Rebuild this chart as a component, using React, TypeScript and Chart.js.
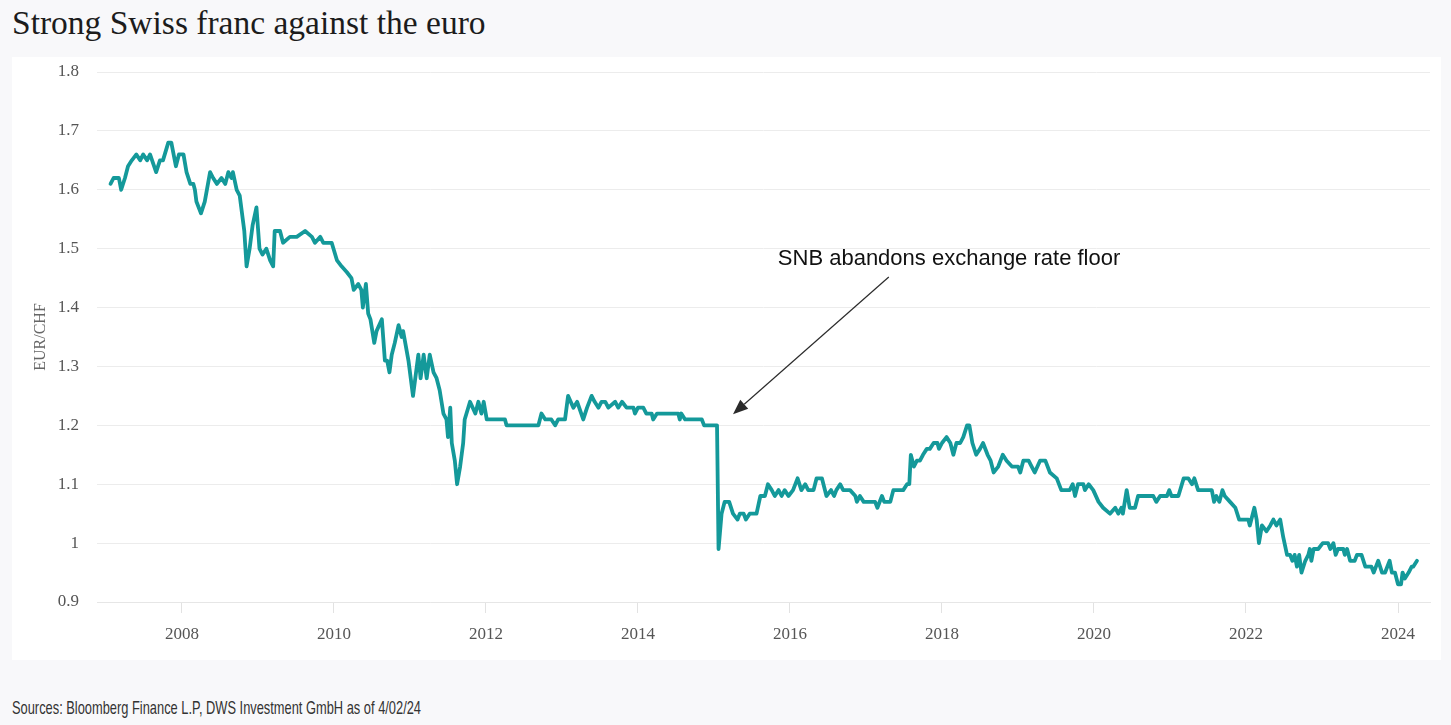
import React, { useEffect, useRef } from "react";
import { Chart, registerables } from "chart.js";

Chart.register(...registerables);

// Decimal-year dates of the EUR/CHF observations
const dates: number[] = [
  2007.06, 2007.10, 2007.17, 2007.20, 2007.25, 2007.29, 2007.34, 2007.40, 2007.45, 2007.49,
  2007.54, 2007.58, 2007.66, 2007.71, 2007.75, 2007.82, 2007.86, 2007.92, 2007.96, 2008.02,
  2008.06, 2008.11, 2008.15, 2008.17, 2008.19, 2008.25, 2008.30, 2008.37, 2008.41, 2008.46,
  2008.52, 2008.57, 2008.61, 2008.65, 2008.67, 2008.72, 2008.76, 2008.82, 2008.85, 2008.89,
  2008.93, 2008.98, 2009.02, 2009.06, 2009.11, 2009.16, 2009.20, 2009.22, 2009.29, 2009.33,
  2009.42, 2009.51, 2009.62, 2009.71, 2009.75, 2009.82, 2009.86, 2009.97, 2010.04, 2010.10,
  2010.17, 2010.23, 2010.26, 2010.32, 2010.36, 2010.38, 2010.42, 2010.45, 2010.48, 2010.53,
  2010.56, 2010.63, 2010.67, 2010.70, 2010.73, 2010.76, 2010.80, 2010.85, 2010.89, 2010.91,
  2010.98, 2011.04, 2011.08, 2011.11, 2011.14, 2011.18, 2011.22, 2011.26, 2011.31, 2011.35,
  2011.39, 2011.44, 2011.48, 2011.50, 2011.53, 2011.55, 2011.59, 2011.62, 2011.66, 2011.70,
  2011.72, 2011.79, 2011.86, 2011.90, 2011.94, 2011.97, 2012.01, 2012.25, 2012.27, 2012.69,
  2012.73, 2012.78, 2012.86, 2012.91, 2012.95, 2013.04, 2013.08, 2013.15, 2013.20, 2013.28,
  2013.33, 2013.39, 2013.43, 2013.48, 2013.52, 2013.57, 2013.61, 2013.70, 2013.74, 2013.79,
  2013.85, 2013.94, 2013.96, 2014.00, 2014.07, 2014.11, 2014.18, 2014.20, 2014.25, 2014.53,
  2014.55, 2014.57, 2014.62, 2014.84, 2014.87, 2015.04, 2015.06, 2015.10, 2015.14, 2015.20,
  2015.25, 2015.31, 2015.34, 2015.39, 2015.42, 2015.47, 2015.52, 2015.56, 2015.61, 2015.67,
  2015.71, 2015.76, 2015.80, 2015.85, 2015.89, 2015.93, 2015.98, 2016.04, 2016.10, 2016.15,
  2016.20, 2016.24, 2016.31, 2016.35, 2016.42, 2016.48, 2016.54, 2016.58, 2016.61, 2016.66,
  2016.70, 2016.79, 2016.86, 2016.88, 2016.92, 2016.97, 2017.12, 2017.15, 2017.21, 2017.24,
  2017.32, 2017.36, 2017.49, 2017.54, 2017.57, 2017.59, 2017.63, 2017.67, 2017.71, 2017.75,
  2017.80, 2017.84, 2017.89, 2017.94, 2017.96, 2018.00, 2018.06, 2018.11, 2018.15, 2018.19,
  2018.24, 2018.28, 2018.33, 2018.36, 2018.40, 2018.45, 2018.50, 2018.54, 2018.60, 2018.64,
  2018.68, 2018.74, 2018.80, 2018.85, 2018.92, 2019.00, 2019.03, 2019.07, 2019.14, 2019.18,
  2019.22, 2019.29, 2019.36, 2019.42, 2019.51, 2019.57, 2019.68, 2019.72, 2019.75, 2019.79,
  2019.86, 2019.88, 2019.93, 2019.99, 2020.06, 2020.12, 2020.21, 2020.28, 2020.32, 2020.36,
  2020.38, 2020.43, 2020.47, 2020.54, 2020.58, 2020.78, 2020.82, 2020.87, 2020.96, 2020.99,
  2021.02, 2021.11, 2021.18, 2021.24, 2021.29, 2021.32, 2021.37, 2021.44, 2021.55, 2021.58,
  2021.61, 2021.65, 2021.69, 2021.72, 2021.79, 2021.86, 2021.91, 2022.03, 2022.05, 2022.11,
  2022.14, 2022.17, 2022.21, 2022.27, 2022.32, 2022.36, 2022.40, 2022.45, 2022.49, 2022.54,
  2022.58, 2022.61, 2022.64, 2022.67, 2022.70, 2022.73, 2022.78, 2022.82, 2022.84, 2022.86,
  2022.89, 2022.95, 2023.01, 2023.08, 2023.11, 2023.15, 2023.18, 2023.21, 2023.28, 2023.30,
  2023.33, 2023.37, 2023.43, 2023.46, 2023.52, 2023.57, 2023.65, 2023.68, 2023.71, 2023.74,
  2023.79, 2023.83, 2023.89, 2023.92, 2023.96, 2024.00, 2024.04, 2024.06, 2024.09, 2024.14,
  2024.18, 2024.20, 2024.25,
];

// EUR/CHF exchange rate
const eurchf: number[] = [
  1.61, 1.62, 1.62, 1.60, 1.62, 1.64, 1.65, 1.66, 1.65, 1.66,
  1.65, 1.66, 1.63, 1.65, 1.65, 1.68, 1.68, 1.64, 1.66, 1.66,
  1.63, 1.61, 1.61, 1.60, 1.58, 1.56, 1.58, 1.63, 1.62, 1.61,
  1.62, 1.61, 1.63, 1.62, 1.63, 1.60, 1.59, 1.53, 1.47, 1.50,
  1.54, 1.57, 1.50, 1.49, 1.50, 1.48, 1.47, 1.53, 1.53, 1.51,
  1.52, 1.52, 1.53, 1.52, 1.51, 1.52, 1.51, 1.51, 1.48, 1.47,
  1.46, 1.45, 1.43, 1.44, 1.43, 1.40, 1.44, 1.39, 1.38, 1.34,
  1.36, 1.38, 1.31, 1.31, 1.29, 1.32, 1.34, 1.37, 1.35, 1.36,
  1.31, 1.25, 1.29, 1.32, 1.28, 1.32, 1.28, 1.32, 1.29, 1.28,
  1.26, 1.22, 1.21, 1.18, 1.23, 1.17, 1.14, 1.10, 1.13, 1.17,
  1.21, 1.24, 1.22, 1.24, 1.22, 1.24, 1.21, 1.21, 1.20, 1.20,
  1.22, 1.21, 1.21, 1.20, 1.21, 1.21, 1.25, 1.23, 1.24, 1.21,
  1.23, 1.25, 1.24, 1.23, 1.24, 1.24, 1.23, 1.24, 1.23, 1.24,
  1.23, 1.23, 1.22, 1.23, 1.23, 1.22, 1.22, 1.21, 1.22, 1.22,
  1.21, 1.22, 1.21, 1.21, 1.20, 1.20, 0.99, 1.05, 1.07, 1.07,
  1.05, 1.04, 1.05, 1.05, 1.04, 1.05, 1.05, 1.05, 1.08, 1.08,
  1.10, 1.09, 1.08, 1.09, 1.08, 1.09, 1.08, 1.09, 1.11, 1.09,
  1.10, 1.09, 1.09, 1.11, 1.11, 1.08, 1.09, 1.08, 1.09, 1.10,
  1.09, 1.09, 1.08, 1.07, 1.08, 1.07, 1.07, 1.06, 1.08, 1.07,
  1.07, 1.09, 1.09, 1.10, 1.10, 1.15, 1.13, 1.14, 1.14, 1.15,
  1.16, 1.16, 1.17, 1.17, 1.16, 1.17, 1.18, 1.17, 1.15, 1.17,
  1.17, 1.18, 1.20, 1.20, 1.17, 1.15, 1.16, 1.17, 1.15, 1.14,
  1.12, 1.13, 1.15, 1.14, 1.13, 1.13, 1.12, 1.14, 1.14, 1.13,
  1.12, 1.14, 1.14, 1.12, 1.11, 1.09, 1.09, 1.10, 1.08, 1.10,
  1.10, 1.09, 1.10, 1.09, 1.07, 1.06, 1.05, 1.06, 1.05, 1.06,
  1.05, 1.09, 1.06, 1.06, 1.08, 1.08, 1.07, 1.08, 1.08, 1.09,
  1.08, 1.08, 1.11, 1.11, 1.10, 1.11, 1.09, 1.09, 1.09, 1.07,
  1.08, 1.07, 1.09, 1.08, 1.07, 1.06, 1.04, 1.04, 1.03, 1.06,
  1.04, 1.00, 1.03, 1.02, 1.03, 1.04, 1.03, 1.04, 1.01, 0.98,
  0.98, 0.97, 0.98, 0.96, 0.98, 0.95, 0.97, 0.98, 0.99, 0.97,
  0.99, 0.99, 1.00, 1.00, 0.99, 1.00, 0.98, 0.99, 0.99, 0.98,
  0.99, 0.97, 0.97, 0.98, 0.98, 0.96, 0.96, 0.95, 0.96, 0.97,
  0.95, 0.95, 0.97, 0.95, 0.95, 0.93, 0.93, 0.95, 0.94, 0.95,
  0.96, 0.96, 0.97,
];

const xTickYears: number[] = [2008, 2010, 2012, 2014, 2016, 2018, 2020, 2022, 2024];
const yTickValues: number[] = [0.9, 1.0, 1.1, 1.2, 1.3, 1.4, 1.5, 1.6, 1.7, 1.8];

const TITLE = "Strong Swiss franc against the euro";
const SOURCE = "Sources: Bloomberg Finance L.P, DWS Investment GmbH as of 4/02/24";
const Y_TITLE = "EUR/CHF";
const NOTE_TEXT = "SNB abandons exchange rate floor";
// annotation anchors in data space (year, rate)
const NOTE_TEXT_AT = [2015.84, 1.472];
const NOTE_TAIL_AT = [2017.30, 1.452];
const NOTE_TIP_AT = [2015.25, 1.219];

const LINE_COLOR = "#14999a";

const notePlugin = {
  id: "snbNote",
  afterDatasetsDraw(chart: any) {
    const { ctx, scales } = chart;
    const x = scales.x;
    const y = scales.y;
    const tx = x.getPixelForValue(NOTE_TIP_AT[0]);
    const ty = y.getPixelForValue(NOTE_TIP_AT[1]);
    const sx = x.getPixelForValue(NOTE_TAIL_AT[0]);
    const sy = y.getPixelForValue(NOTE_TAIL_AT[1]);
    const ang = Math.atan2(ty - sy, tx - sx);
    const headLen = 15;
    const headHalf = 6;
    const bx = tx - headLen * Math.cos(ang);
    const by = ty - headLen * Math.sin(ang);
    ctx.save();
    ctx.strokeStyle = "#2b2b2b";
    ctx.lineWidth = 1.2;
    ctx.beginPath();
    ctx.moveTo(sx, sy);
    ctx.lineTo(bx, by);
    ctx.stroke();
    ctx.fillStyle = "#2b2b2b";
    ctx.beginPath();
    ctx.moveTo(tx, ty);
    ctx.lineTo(bx + headHalf * Math.sin(ang), by - headHalf * Math.cos(ang));
    ctx.lineTo(bx - headHalf * Math.sin(ang), by + headHalf * Math.cos(ang));
    ctx.closePath();
    ctx.fill();
    ctx.font = '22px "Liberation Sans", Arial, sans-serif';
    ctx.fillStyle = "#111111";
    ctx.textAlign = "left";
    ctx.textBaseline = "alphabetic";
    ctx.fillText(NOTE_TEXT, x.getPixelForValue(NOTE_TEXT_AT[0]), y.getPixelForValue(NOTE_TEXT_AT[1]));
    ctx.restore();
  },
};

export default function App() {
  const canvasRef = useRef<HTMLCanvasElement | null>(null);
  const sourceRef = useRef<HTMLSpanElement | null>(null);

  useEffect(() => {
    document.body.style.margin = "0";
    document.body.style.background = "#f8f8fa";
    const src = sourceRef.current;
    if (src) {
      const w = src.getBoundingClientRect().width;
      if (w > 0) src.style.transform = `scaleX(${409 / w})`;
    }
    const canvas = canvasRef.current;
    if (!canvas) return;
    const serif = '"Liberation Serif", "Times New Roman", serif';
    const chart = new Chart(canvas, {
      type: "line",
      data: {
        datasets: [
          {
            label: "EUR/CHF",
            data: dates.map((d, i) => ({ x: d, y: eurchf[i] })),
            borderColor: LINE_COLOR,
            backgroundColor: LINE_COLOR,
            borderWidth: 3.8,
            pointRadius: 0,
            pointHoverRadius: 0,
            tension: 0,
            borderJoinStyle: "round",
            borderCapStyle: "round",
            fill: false,
          },
        ],
      },
      options: {
        animation: false,
        responsive: true,
        maintainAspectRatio: false,
        parsing: false as any,
        layout: { padding: { top: 15, right: 11, left: 0, bottom: 0 } },
        plugins: {
          legend: { display: false },
          tooltip: { enabled: false },
          title: { display: false },
        },
        scales: {
          x: {
            type: "linear",
            min: 2006.882,
            max: 2024.421,
            afterBuildTicks: (s: any) => {
              s.ticks = xTickYears.map((v) => ({ value: v }));
            },
            afterFit: (s: any) => {
              s.height = 58;
              s.paddingLeft = 0;
              s.paddingRight = 0;
            },
            ticks: {
              callback: (v: any) => String(v),
              font: { family: serif, size: 17 },
              color: "#555555",
              padding: 11,
              maxRotation: 0,
              autoSkip: false,
            },
            grid: {
              drawOnChartArea: false,
              drawTicks: true,
              tickLength: 11,
              color: "#e2e2e2",
            },
            border: { display: true, color: "#e6e6e6" },
          },
          y: {
            min: 0.9,
            max: 1.8,
            afterBuildTicks: (s: any) => {
              s.ticks = yTickValues.map((v) => ({ value: v }));
            },
            afterFit: (s: any) => {
              s.width = 85;
              s.paddingTop = 0;
              s.paddingBottom = 0;
            },
            ticks: {
              callback: (v: any) => String(Number(Number(v).toFixed(1))),
              font: { family: serif, size: 17 },
              color: "#555555",
              padding: 18,
            },
            grid: { color: "#ececec", drawTicks: false },
            border: { display: false },
            title: {
              display: true,
              text: Y_TITLE,
              font: { family: serif, size: 16 },
              color: "#666666",
              padding: { top: 19, bottom: 0 },
            },
          },
        },
      },
      plugins: [notePlugin],
    } as any);
    return () => chart.destroy();
  }, []);

  return (
    <div
      style={{
        position: "relative",
        width: 1451,
        height: 725,
        background: "#f8f8fa",
        overflow: "hidden",
      }}
    >
      <div
        style={{
          position: "absolute",
          left: 12,
          top: 3,
          fontFamily: '"Liberation Serif", "DejaVu Serif", serif',
          fontSize: 33.5,
          lineHeight: "40px",
          color: "#1c1c1c",
          whiteSpace: "nowrap",
        }}
      >
        {TITLE}
      </div>
      <div
        style={{
          position: "absolute",
          left: 12,
          top: 57,
          width: 1429,
          height: 603,
          background: "#ffffff",
        }}
      >
        <canvas ref={canvasRef} />
      </div>
      <div
        style={{
          position: "absolute",
          left: 12,
          top: 697,
          whiteSpace: "nowrap",
        }}
      >
        <span
          ref={sourceRef}
          style={{
            display: "inline-block",
            transformOrigin: "0 0",
            fontFamily: '"Liberation Sans", Arial, sans-serif',
            fontSize: 18.5,
            lineHeight: "22px",
            color: "#333333",
          }}
        >
          {SOURCE}
        </span>
      </div>
    </div>
  );
}
